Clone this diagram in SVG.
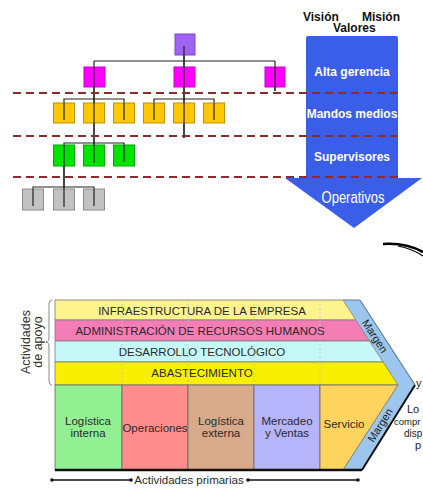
<svg xmlns="http://www.w3.org/2000/svg" width="423" height="491" viewBox="0 0 423 491">
<defs>
<style>
.bx{stroke-width:1}
.pu{fill:#a062f2;stroke:#7b48c0}
.mg{fill:#ff00ff;stroke:#c000c8}
.ye{fill:#ffc800;stroke:#c09000}
.gr{fill:#00e400;stroke:#00a800}
.gy{fill:#c2c2c2;stroke:#8c8c8c}
.ln{stroke:#222;stroke-width:1.2;fill:none}
.dash{stroke:#8b2b2b;stroke-width:2;stroke-dasharray:8,5;fill:none}
.wt{font-family:"Liberation Sans",Arial,sans-serif;font-weight:bold;font-size:12px;fill:#fff;text-anchor:middle}
.hd{font-family:"Liberation Sans",Arial,sans-serif;font-weight:bold;font-size:12px;fill:#111}
.vc{font-family:"Liberation Sans",Arial,sans-serif;font-size:11.5px;fill:#2a2a2a;text-anchor:middle}
.sm{font-family:"Liberation Sans",Arial,sans-serif;font-size:11px;fill:#222}
.row{stroke:#7a7a7a;stroke-width:0.8}
.col{stroke:#666;stroke-width:0.8}
.fd{stroke:#bbb;stroke-width:0.7;stroke-dasharray:2,2}
</style>
</defs>

<g id="connectors">
<path class="ln" d="M184,46V138 M94,61H275 M94,61V163 M275,61V91"/>
<path class="ln" d="M64,120V99H124V120 M154,120V99H214V120"/>
<path class="ln" d="M64,207V143H124V162"/>
<path class="ln" d="M33,206V187H94V206"/>
</g>

<g id="org-nodes">
<g id="n-top"><rect class="bx pu" x="175" y="34" width="20" height="21"/></g>
<g id="n-m1"><rect class="bx mg" x="84" y="67" width="21" height="20"/></g>
<g id="n-m2"><rect class="bx mg" x="174" y="67" width="21" height="20"/></g>
<g id="n-m3"><rect class="bx mg" x="265" y="67" width="20" height="20"/></g>
<g id="n-y1"><rect class="bx ye" x="53.5" y="103" width="21" height="20"/></g>
<g id="n-y2"><rect class="bx ye" x="83.5" y="103" width="21" height="20"/></g>
<g id="n-y3"><rect class="bx ye" x="113.5" y="103" width="21" height="20"/></g>
<g id="n-y4"><rect class="bx ye" x="143.5" y="103" width="21" height="20"/></g>
<g id="n-y5"><rect class="bx ye" x="173.5" y="103" width="21" height="20"/></g>
<g id="n-y6"><rect class="bx ye" x="203.5" y="103" width="21" height="20"/></g>
<g id="n-g1"><rect class="bx gr" x="53.5" y="145" width="21" height="21"/></g>
<g id="n-g2"><rect class="bx gr" x="83.5" y="145" width="21" height="21"/></g>
<g id="n-g3"><rect class="bx gr" x="113.5" y="145" width="21" height="21"/></g>
<g id="n-s1"><rect class="bx gy" x="22.5" y="189" width="21" height="21"/></g>
<g id="n-s2"><rect class="bx gy" x="53.5" y="189" width="21" height="21"/></g>
<g id="n-s3"><rect class="bx gy" x="83.5" y="189" width="21" height="21"/></g>
</g>

<g id="connectors-over">
<path class="ln" d="M184,46V138 M94,67V163 M275,67V91 M64,103V120 M124,103V120 M154,103V120 M214,103V120 M64,145V207 M124,145V162 M33,189V206 M94,189V206"/>
</g>

<g id="arrow">
<path d="M306,38 Q306,36 308,36 H396 Q398,36 398,38 V178 H422 L354,228 L285,178 H306 Z" fill="#3b5ee9"/>
<text class="wt" x="352" y="76">Alta gerencia</text>
<text class="wt" x="352" y="118">Mandos medios</text>
<text class="wt" x="352" y="161">Supervisores</text>
<text x="353" y="203" font-family="'Liberation Sans',Arial,sans-serif" font-size="16" fill="#fff" text-anchor="middle" textLength="63" lengthAdjust="spacingAndGlyphs">Operativos</text>
</g>

<g id="headers">
<text class="hd" x="303" y="21">Visión</text>
<text class="hd" x="362" y="21">Misión</text>
<text class="hd" x="333" y="32">Valores</text>
</g>

<g id="levels">
<line class="dash" x1="13" y1="93" x2="398" y2="93"/>
<line class="dash" x1="13" y1="136" x2="398" y2="136"/>
<line class="dash" x1="13" y1="177" x2="398" y2="177"/>
</g>

<path d="M383,244 C398,243 412,246 423,252" stroke="#000" stroke-width="2.6" fill="none"/>
<path d="M398,246 C408,248 416,251 423,256" stroke="#000" stroke-width="1.2" fill="none"/>

<g id="value-chain">
<polygon points="343,300 360,300 415,385 362,470 343,470 398,385" fill="#9cc6ee"/>
<path d="M360,300 L415,385" stroke="#5d7fa6" stroke-width="1.2" fill="none"/>
<path d="M415,385 L362,470" stroke="#111" stroke-width="2" fill="none"/>
<path d="M343,300 H360" stroke="#5d7fa6" stroke-width="1" fill="none"/>

<g id="support-1"><polygon class="row" points="55,300 343,300 355.9,320 55,320" fill="#fdf48e"/>
<text class="vc" x="202" y="314.5">INFRAESTRUCTURA DE LA EMPRESA</text></g>
<g id="support-2"><polygon class="row" points="55,320 355.9,320 369.5,341 55,341" fill="#f57db6"/>
<text class="vc" x="200" y="335">ADMINISTRACIÓN DE RECURSOS HUMANOS</text></g>
<g id="support-3"><polygon class="row" points="55,341 369.5,341 383.1,362 55,362" fill="#c6f8f8"/>
<text class="vc" x="202" y="356">DESARROLLO TECNOLÓGICO</text></g>
<g id="support-4"><polygon class="row" points="55,362 383.1,362 398,385 55,385" fill="#f8f000"/>
<text class="vc" x="202" y="377">ABASTECIMIENTO</text></g>
<path class="fd" d="M122,300V385 M188,300V385 M254,300V385 M320,300V385"/>

<g id="p-1"><rect class="col" x="55" y="385" width="67" height="85" fill="#92f092"/>
<text class="vc" x="88" y="425">Logística</text><text class="vc" x="88" y="437">interna</text></g>
<g id="p-2"><rect class="col" x="122" y="385" width="66" height="85" fill="#ff8d8d"/>
<text class="vc" x="155" y="432">Operaciones</text></g>
<g id="p-3"><rect class="col" x="188" y="385" width="66" height="85" fill="#d6aa8a"/>
<text class="vc" x="221" y="425">Logística</text><text class="vc" x="221" y="437">externa</text></g>
<g id="p-4"><rect class="col" x="254" y="385" width="66" height="85" fill="#b6b4fb"/>
<text class="vc" x="287" y="425">Mercadeo</text><text class="vc" x="287" y="437">y Ventas</text></g>
<g id="p-5"><polygon class="col" points="320,385 398,385 343,470 320,470" fill="#ffd45e"/>
<text class="vc" x="344" y="428">Servicio</text></g>
<path d="M55,470 H362" stroke="#111" stroke-width="2.4"/>

<text class="sm" x="375" y="340" text-anchor="middle" transform="rotate(57 375 336)">Margen</text>
<text class="sm" x="380" y="429" text-anchor="middle" transform="rotate(-57.6 380 425)">Margen</text>

<path d="M52,300 Q49,300 49,304 V337 Q49,342 46,342 Q49,342 49,347 V381 Q49,385 52,385" stroke="#888" stroke-width="1" fill="none"/>
<text transform="translate(30,342) rotate(-90)" text-anchor="middle" font-family="'Liberation Sans',Arial,sans-serif" font-size="12.5" fill="#333">Actividades</text>
<text transform="translate(42,342) rotate(-90)" text-anchor="middle" font-family="'Liberation Sans',Arial,sans-serif" font-size="12.5" fill="#333">de apoyo</text>

<path d="M52,480 H131 M248,480 H358" stroke="#111" stroke-width="1.5"/>
<circle cx="52" cy="480" r="1.8" fill="#111"/><circle cx="131" cy="480" r="1.8" fill="#111"/>
<circle cx="248" cy="480" r="1.8" fill="#111"/><circle cx="358" cy="480" r="1.8" fill="#111"/>
<text class="vc" x="189" y="484">Actividades primarias</text>

<text class="sm" x="416" y="387">y</text>
<text class="sm" x="407" y="413">Lo</text>
<text x="394" y="425" font-family="'Liberation Sans',Arial,sans-serif" font-size="9.5" fill="#222">compr</text>
<text x="404" y="437" font-family="'Liberation Sans',Arial,sans-serif" font-size="10" fill="#222">disp</text>
<text class="sm" x="415" y="449">p</text>
</g>
</svg>
